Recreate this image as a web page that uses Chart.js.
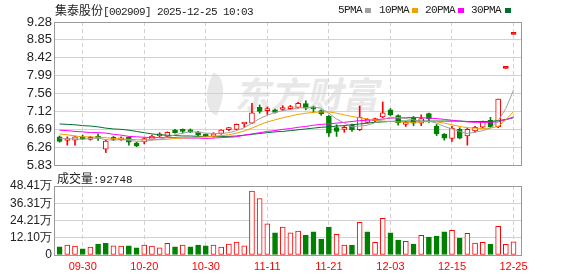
<!DOCTYPE html>
<html>
<head>
<meta charset="utf-8">
<script src="https://cdn.jsdelivr.net/npm/chart.js@4.4.1/dist/chart.umd.min.js"></script>
<style>
  body { margin: 0; background: #fff; width: 578px; height: 276px; overflow: hidden; position: relative; }
  canvas { position: absolute; left: 0; }
  #priceChart { top: 0; z-index: 2; }
  #volChart { top: 170px; z-index: 2; }
  .txt { position: absolute; white-space: nowrap; color: #222; line-height: 14px; z-index: 3; }
  .cjk { font-family: "Noto Sans CJK SC"; font-size: 12px; }
  .mono { font-family: "Liberation Mono", monospace; font-size: 11px; letter-spacing: -0.6px; }
  .sq { position: absolute; width: 6px; height: 5px; }
  #mark { position: absolute; left: 238px; top: 66px; font-family: "Noto Sans CJK SC"; font-weight: bold; font-size: 36px; color: #e8e8e8; transform: skewX(-12deg); z-index: 1; letter-spacing: 0px; }
  #logo { position: absolute; left: 204px; top: 74px; width: 22px; height: 40px; background: #e8e8e8; border-radius: 0 100% 0 100%; transform: rotate(18deg) skewX(-8deg); z-index: 1; }
</style>
</head>
<body>
<div id="logo"></div>
<div id="mark">东方财富</div>
<canvas id="priceChart" width="578" height="185"></canvas>
<canvas id="volChart" width="578" height="106"></canvas>

<div class="txt" style="left:55px;top:3px"><span class="cjk">集泰股份</span><span class="mono">[002909] 2025-12-25 10:03</span></div>
<div class="txt mono" style="left:338px;top:3px">5PMA</div>
<div class="sq" style="left:365px;top:8px;background:#a0a0a0"></div>
<div class="txt mono" style="left:379px;top:3px">10PMA</div>
<div class="sq" style="left:412px;top:8px;background:#f0a000"></div>
<div class="txt mono" style="left:425px;top:3px">20PMA</div>
<div class="sq" style="left:458px;top:8px;background:#ff00ff"></div>
<div class="txt mono" style="left:471px;top:3px">30PMA</div>
<div class="sq" style="left:505px;top:8px;background:#006f2e"></div>
<div class="txt" style="left:57px;top:171px"><span class="cjk">成交量</span><span class="mono" style="letter-spacing:0">:92748</span></div>

<script>
const dates = [
  '09-25', '09-26', '09-29', '09-30', '10-09', '10-10', '10-13', '10-14', '10-15', '10-16',
  '10-17', '10-20', '10-21', '10-22', '10-23', '10-24', '10-27', '10-28', '10-29', '10-30',
  '10-31', '11-03', '11-04', '11-05', '11-06', '11-07', '11-10', '11-11', '11-12', '11-13',
  '11-14', '11-17', '11-18', '11-19', '11-20', '11-21', '11-24', '11-25', '11-26', '11-27',
  '11-28', '12-01', '12-02', '12-03', '12-04', '12-05', '12-08', '12-09', '12-10', '12-11',
  '12-12', '12-15', '12-16', '12-17', '12-18', '12-19', '12-22', '12-23', '12-24', '12-25'
];
const opens = [
  6.51, 6.42, 6.43, 6.51, 6.45, 6.50, 6.21, 6.50, 6.44, 6.50,
  6.36, 6.39, 6.45, 6.53, 6.52, 6.67, 6.66, 6.66, 6.63, 6.56,
  6.52, 6.59, 6.68, 6.69, 6.82, 6.84, 7.22, 7.14, 7.16, 7.17,
  7.19, 7.22, 7.31, 7.21, 7.14, 7.01, 6.73, 6.69, 6.80, 6.68,
  6.86, 6.90, 6.99, 7.16, 7.02, 6.81, 6.98, 6.84, 7.07, 6.77,
  6.57, 6.47, 6.69, 6.53, 6.65, 6.74, 6.91, 6.75, 8.16, 8.98
];
const highs = [
  6.53, 6.51, 6.53, 6.55, 6.52, 6.58, 6.44, 6.52, 6.51, 6.51,
  6.38, 6.48, 6.55, 6.61, 6.63, 6.69, 6.70, 6.70, 6.64, 6.58,
  6.61, 6.68, 6.74, 6.82, 6.85, 7.32, 7.28, 7.23, 7.18, 7.26,
  7.27, 7.34, 7.38, 7.25, 7.16, 7.02, 6.80, 6.77, 6.82, 7.25,
  6.95, 6.96, 7.35, 7.19, 7.04, 6.88, 7.00, 7.04, 7.08, 6.81,
  6.59, 6.76, 6.73, 6.72, 6.76, 6.89, 6.98, 7.42, 8.16, 8.98
];
const lows = [
  6.38, 6.31, 6.31, 6.44, 6.43, 6.42, 6.13, 6.42, 6.42, 6.31,
  6.27, 6.34, 6.44, 6.50, 6.50, 6.60, 6.60, 6.61, 6.54, 6.51,
  6.50, 6.57, 6.66, 6.68, 6.74, 6.83, 7.08, 7.05, 7.08, 7.14,
  7.17, 7.20, 7.16, 7.10, 7.03, 6.52, 6.52, 6.62, 6.64, 6.66,
  6.84, 6.85, 6.97, 7.02, 6.79, 6.76, 6.78, 6.78, 6.86, 6.54,
  6.43, 6.40, 6.46, 6.31, 6.62, 6.72, 6.74, 6.73, 8.16, 8.98
];
const closes = [
  6.40, 6.47, 6.51, 6.46, 6.50, 6.48, 6.41, 6.45, 6.48, 6.38,
  6.29, 6.47, 6.53, 6.58, 6.62, 6.61, 6.64, 6.63, 6.55, 6.53,
  6.58, 6.67, 6.73, 6.81, 6.84, 7.09, 7.12, 7.19, 7.10, 7.21,
  7.23, 7.32, 7.20, 7.18, 7.06, 6.60, 6.64, 6.74, 6.68, 6.98,
  6.93, 6.94, 7.09, 7.04, 6.85, 6.86, 6.84, 6.95, 6.94, 6.58,
  6.48, 6.72, 6.48, 6.69, 6.74, 6.87, 6.75, 7.42, 8.16, 8.98
];
const volumes = [
  58000, 70000, 63000, 44000, 56000, 77000, 82000, 65000, 63000, 65000,
  50000, 70000, 63000, 50000, 82000, 58000, 70000, 58000, 70000, 65000,
  70000, 56000, 77000, 90000, 65000, 449000, 395000, 218000, 155000, 196000,
  155000, 168000, 140000, 162000, 112000, 196000, 145000, 70000, 70000, 229000,
  162000, 89000, 257000, 155000, 105000, 96000, 77000, 138000, 126000, 133000,
  162000, 173000, 119000, 152000, 84000, 89000, 77000, 201000, 75000, 92748
];
const ma5 = [
  6.47, 6.46, 6.46, 6.45, 6.47, 6.48, 6.44, 6.43, 6.44, 6.43,
  6.40, 6.40, 6.43, 6.45, 6.50, 6.56, 6.60, 6.63, 6.62, 6.60,
  6.59, 6.59, 6.61, 6.66, 6.73, 6.84, 6.95, 7.03, 7.10, 7.14,
  7.17, 7.21, 7.21, 7.23, 7.20, 7.08, 6.94, 6.84, 6.75, 6.77,
  6.79, 6.85, 6.93, 6.98, 6.97, 6.95, 6.92, 6.87, 6.89, 6.84,
  6.76, 6.70, 6.64, 6.59, 6.62, 6.66, 6.72, 6.90, 7.19, 7.64
];
const ma10 = [
  6.58, 6.56, 6.53, 6.51, 6.51, 6.50, 6.49, 6.47, 6.46, 6.45,
  6.44, 6.44, 6.44, 6.44, 6.45, 6.47, 6.48, 6.49, 6.50, 6.51,
  6.52, 6.54, 6.56, 6.60, 6.65, 6.72, 6.80, 6.87, 6.92, 6.97,
  7.01, 7.05, 7.08, 7.10, 7.11, 7.11, 7.08, 7.04, 7.00, 6.97,
  6.94, 6.91, 6.89, 6.88, 6.87, 6.86, 6.86, 6.87, 6.88, 6.87,
  6.84, 6.80, 6.76, 6.73, 6.72, 6.71, 6.72, 6.76, 6.92, 7.12
];
const ma20 = [
  6.67, 6.66, 6.64, 6.63, 6.61, 6.61, 6.60, 6.57, 6.55, 6.52,
  6.51, 6.50, 6.49, 6.49, 6.49, 6.49, 6.48, 6.48, 6.48, 6.47,
  6.48, 6.49, 6.50, 6.51, 6.55, 6.58, 6.61, 6.64, 6.66, 6.69,
  6.71, 6.74, 6.76, 6.79, 6.81, 6.82, 6.84, 6.86, 6.88, 6.90,
  6.91, 6.92, 6.94, 6.96, 6.97, 6.97, 6.98, 6.97, 6.96, 6.95,
  6.93, 6.91, 6.89, 6.87, 6.86, 6.86, 6.86, 6.87, 6.92, 6.99
];
const ma30 = [
  6.82, 6.81, 6.80, 6.78, 6.77, 6.75, 6.72, 6.70, 6.69, 6.67,
  6.64, 6.61, 6.58, 6.56, 6.55, 6.54, 6.53, 6.53, 6.52, 6.52,
  6.52, 6.52, 6.52, 6.53, 6.55, 6.57, 6.59, 6.61, 6.63, 6.64,
  6.66, 6.68, 6.70, 6.72, 6.74, 6.75, 6.77, 6.78, 6.80, 6.82,
  6.84, 6.86, 6.87, 6.88, 6.89, 6.89, 6.89, 6.89, 6.89, 6.89,
  6.89, 6.89, 6.89, 6.88, 6.88, 6.88, 6.88, 6.90, 6.93, 6.97
];
const shownDates = ['09-30', '10-20', '10-30', '11-11', '11-21', '12-03', '12-15', '12-25'];
const priceTicks = ['5.83', '6.26', '6.69', '7.12', '7.56', '7.99', '8.42', '8.85', '9.28'];
const volumeTicks = ['0', '12.10万', '24.21万', '36.31万', '48.41万'];
const priceMin = 5.83, priceMax = 9.28;
const volumeMax = 484100;

const RED = '#ff0000';
const GREEN = '#008000';
const GRID = '#d2d2d2';

// candles: colour by close vs open, hollow when up
const edge = closes.map((c, i) => c >= opens[i] ? RED : GREEN);
const fill = closes.map((c, i) => c > opens[i] ? '#ffffff' : (c === opens[i] ? RED : GREEN));
// volume: colour by close vs previous close
const volUp = closes.map((c, i) => c >= (i > 0 ? closes[i - 1] : opens[i]));
const shownIdx = shownDates.map(d => dates.indexOf(d));

// draws the grey box round the plot area
const framePlugin = {
  id: 'frame',
  afterDraw(chart) {
    const { ctx, chartArea: a } = chart;
    ctx.save();
    ctx.strokeStyle = '#999';
    ctx.lineWidth = 1;
    ctx.strokeRect(Math.round(a.left) - 0.5, Math.round(a.top) + 0.5, Math.round(a.right - a.left), Math.round(a.bottom - a.top));
    ctx.restore();
  }
};

function xAxis(showLabels) {
  return {
    type: 'linear',
    offset: false,
    min: -0.6,
    max: 60.1,
    grid: { color: GRID, drawTicks: false, offset: false },
    border: { display: false, dash: [4, 3] },
    afterBuildTicks: s => { s.ticks = shownIdx.map(i => ({ value: i })); },
    ticks: {
      display: showLabels,
      autoSkip: false,
      callback: v => dates[v],
      color: RED,
      font: { family: 'Liberation Sans', size: 11 },
      padding: 5,
      maxRotation: 0
    },
    afterFit: s => { s.height = showLabels ? 21 : 0; }
  };
}

function yAxis(min, max, labels, size) {
  return {
    min: min,
    max: max,
    afterBuildTicks: s => { s.ticks = labels.map((t, k) => ({ value: min + k * (max - min) / (labels.length - 1) })); },
    ticks: {
      autoSkip: false,
      callback: (v, i) => labels[i],
      color: '#222',
      font: { family: 'Liberation Sans', size: size },
      padding: 3
    },
    grid: { color: GRID, drawTicks: false },
    border: { display: false },
    afterFit: s => { s.width = 55; }
  };
}

function maLine(values, color) {
  return {
    type: 'line',
    data: values.map((v, i) => ({ x: i, y: v })),
    borderColor: color,
    borderWidth: 1,
    pointRadius: 0,
    tension: 0,
    fill: false
  };
}

new Chart(document.getElementById('priceChart'), {
  type: 'bar',
  data: {
    datasets: [
      maLine(ma5, '#a0a0a0'),
      maLine(ma10, '#f0a000'),
      maLine(ma20, '#ff00ff'),
      maLine(ma30, '#006f2e'),
      {
        data: opens.map((o, i) => ({ x: i, y: [o, closes[i]] })),
        backgroundColor: fill,
        borderColor: edge,
        borderWidth: 1,
        borderSkipped: false,
        barThickness: 5,
        minBarLength: 2,
        grouped: false
      },
      {
        data: lows.map((l, i) => ({ x: i, y: [l, highs[i]] })),
        backgroundColor: edge,
        barThickness: 1,
        grouped: false
      }
    ]
  },
  options: {
    responsive: false,
    animation: false,
    events: [],
    layout: { padding: { top: 22, right: 56, bottom: 20, left: 0 } },
    plugins: { legend: { display: false }, tooltip: { enabled: false } },
    scales: {
      x: xAxis(false),
      y: yAxis(priceMin, priceMax, priceTicks, 13)
    }
  },
  plugins: [framePlugin]
});

new Chart(document.getElementById('volChart'), {
  type: 'bar',
  data: {
    datasets: [{
      data: volumes.map((v, i) => ({ x: i, y: v })),
      backgroundColor: volUp.map(u => u ? '#ffffff' : GREEN),
      borderColor: volUp.map(u => u ? RED : GREEN),
      borderWidth: 1,
      borderSkipped: false,
      barThickness: 5,
      grouped: false
    }]
  },
  options: {
    responsive: false,
    animation: false,
    events: [],
    layout: { padding: { top: 16, right: 56, bottom: 0, left: 0 } },
    plugins: { legend: { display: false }, tooltip: { enabled: false } },
    scales: {
      x: xAxis(true),
      y: yAxis(0, volumeMax, volumeTicks, 12)
    }
  },
  plugins: [framePlugin]
});
</script>
</body>
</html>
